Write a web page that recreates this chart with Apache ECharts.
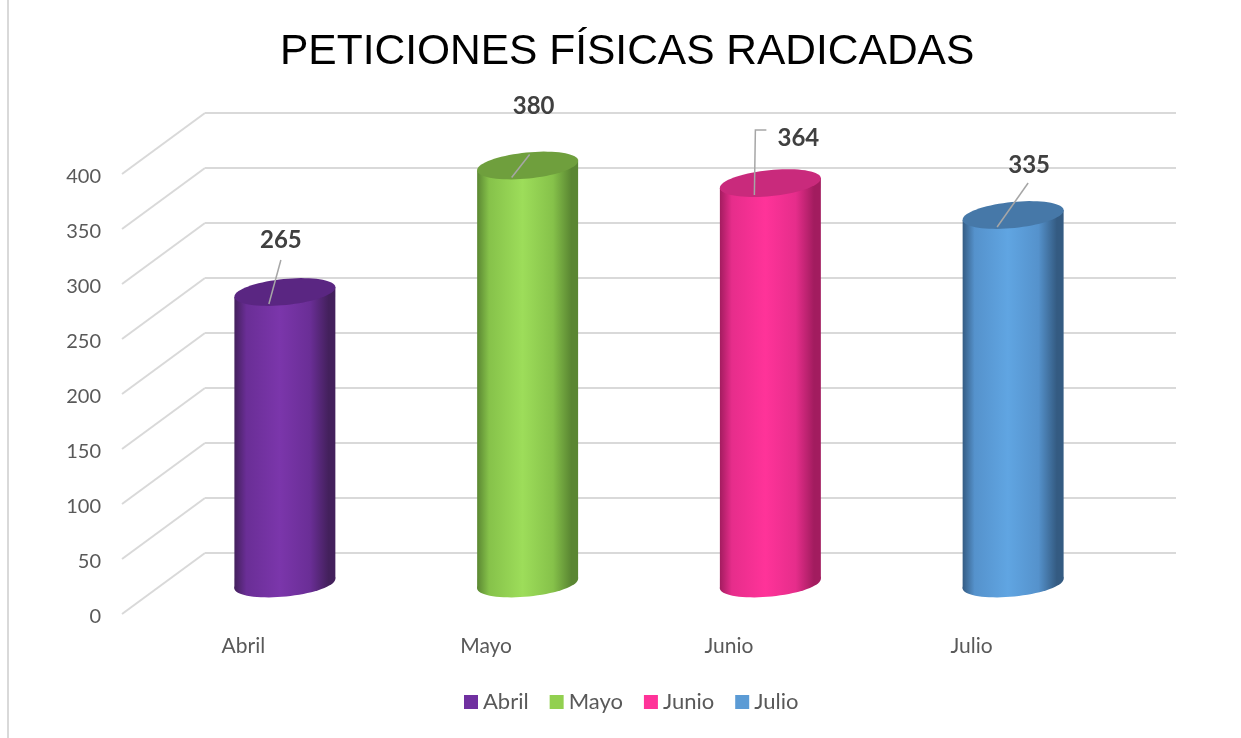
<!DOCTYPE html>
<html>
<head>
<meta charset="utf-8">
<script src="https://cdn.jsdelivr.net/npm/echarts@6/dist/echarts.min.js"></script>
<style>
html,body{margin:0;padding:0;background:#fff;}
#chart{width:1241px;height:738px;}
</style>
</head>
<body>
<div id="chart"></div>
<script>
// ---- data ----
const categories = ['Abril', 'Mayo', 'Junio', 'Julio'];
const values = [265, 380, 364, 335];
const yTicks = [0, 50, 100, 150, 200, 250, 300, 350, 400];
const chartTitle = 'PETICIONES FÍSICAS RADICADAS';

// ---- styles ----
const palettes = [
  { legend: '#7030A0', dark: '#43205c', mid: '#6a2e96', light: '#7b36ab', top: '#5a2682' },
  { legend: '#92D050', dark: '#5a8632', mid: '#86c24a', light: '#9ddd5a', top: '#6f9f3d' },
  { legend: '#FF3399', dark: '#a21c5f', mid: '#e62d8b', light: '#ff3399', top: '#c92a7c' },
  { legend: '#5B9BD5', dark: '#345b82', mid: '#5592cc', light: '#60a5e2', top: '#4678a8' }
];
// label placement relative to the top of each cylinder, and leader start relative to label
const labelNudge = [[-4, -52], [6, -59], [28, -45], [16, -50]];
const leaderFrom = [[0, 20], [-4, 48], [-43, -8], [-1, 18]];

const DX = 83, DY = 61;            // depth offset back wall -> front edge
const back = { left: 205, right: 65, top: 113, bottom: 185 };
const grids = [
  back,
  { left: back.left - DX / 2, right: back.right + DX / 2, top: back.top + DY / 2, bottom: back.bottom - DY / 2 },
  { left: back.left - DX, right: back.right + DX, top: back.top + DY, bottom: back.bottom - DY }
];
const FONT = 'Lato';

function ellipsePts(cx, cy, rx, ry, th) {
  const pts = [];
  const c = Math.cos(th), s = Math.sin(th);
  for (let i = 0; i < 72; i++) {
    const t = i / 72 * Math.PI * 2;
    const ex = rx * Math.cos(t), ey = ry * Math.sin(t);
    pts.push([cx + ex * c + ey * s, cy - ex * s + ey * c]);
  }
  return pts;
}

function cylinder(idx) {
  const p = palettes[idx];
  return function (params, api) {
    const xv = api.value(0), v = api.value(1);
    const topP = api.coord([xv, v]);
    const baseP = api.coord([xv, 0]);
    const bw = api.size([1, 0])[0] * 0.418;
    const rx = bw / 2, ry = 13, th = 0.1;
    const cx = topP[0];
    const lx = rx * Math.cos(th), ly = rx * Math.sin(th);
    const grad = {
      type: 'linear', x: cx - rx, y: 0, x2: cx + rx, y2: 0, global: true,
      colorStops: [
        { offset: 0, color: p.dark },
        { offset: 0.12, color: p.mid },
        { offset: 0.45, color: p.light },
        { offset: 0.75, color: p.mid },
        { offset: 0.93, color: p.dark },
        { offset: 1, color: p.dark }
      ]
    };
    const lab = [cx + labelNudge[idx][0], topP[1] + labelNudge[idx][1]];
    const ls = [lab[0] + leaderFrom[idx][0], lab[1] + leaderFrom[idx][1]];
    const le = [cx - 16, topP[1] + 12];
    const leader = [le, ls];
    if (leaderFrom[idx][0] < -20) leader.push([ls[0] + 11, ls[1]]);
    return {
      type: 'group',
      children: [
        { type: 'polygon', shape: { points: ellipsePts(cx, baseP[1], rx, ry, th) }, style: { fill: grad } },
        { type: 'polygon', shape: { points: [[cx - lx, topP[1] + ly], [cx + lx, topP[1] - ly], [cx + lx, baseP[1] - ly], [cx - lx, baseP[1] + ly]] }, style: { fill: grad } },
        { type: 'polygon', shape: { points: ellipsePts(cx, topP[1], rx, ry, th) }, style: { fill: p.top } },
        { type: 'polyline', shape: { points: leader }, style: { stroke: '#a6a6a6', lineWidth: 1.5, fill: null } },
        { type: 'text', style: { text: String(v), x: lab[0], y: lab[1], align: 'center', verticalAlign: 'middle', fontSize: 24, fontWeight: 'bold', fontFamily: FONT, fill: '#404040' } }
      ]
    };
  };
}

const series = [
  {
    type: 'custom', name: 'diag', xAxisIndex: 2, yAxisIndex: 2, silent: true, z: 1,
    data: yTicks.map(t => [0, t]),
    renderItem: function (params, api) {
      const y = api.coord([0, api.value(1)])[1];
      const x = params.coordSys.x;
      return { type: 'line', shape: { x1: x, y1: y, x2: x + DX, y2: y - DY }, style: { stroke: '#d9d9d9', lineWidth: 2 } };
    }
  }
];
categories.forEach((c, i) => {
  series.push({
    type: 'custom', name: c, xAxisIndex: 1, yAxisIndex: 1, z: 3,
    itemStyle: { color: palettes[i].legend },
    data: [[i, values[i]]],
    renderItem: cylinder(i)
  });
});

const chart = echarts.init(document.getElementById('chart'), null, { renderer: 'canvas' });
chart.setOption({
  animation: false,
  backgroundColor: '#fff',
  title: {
    text: chartTitle, left: 275, top: 26,
    textStyle: { fontFamily: 'Liberation Sans', fontSize: 42.5, fontWeight: 'normal', color: '#000' }
  },
  legend: {
    data: categories, bottom: 20, left: 459, icon: 'rect', itemWidth: 14, itemHeight: 14, itemGap: 21,
    textStyle: { fontFamily: FONT, fontSize: 22, color: '#595959' }
  },
  graphic: [{ type: 'line', shape: { x1: 8, y1: 0, x2: 8, y2: 738 }, style: { stroke: '#d9d9d9', lineWidth: 2 } }],
  grid: grids.map(g => Object.assign({ containLabel: false }, g)),
  xAxis: [0, 1, 2].map(i => ({
    type: 'category', gridIndex: i, data: categories,
    axisLine: { show: false }, axisTick: { show: false },
    axisLabel: { show: i === 2, margin: 22, fontFamily: FONT, fontSize: 21, color: '#595959' }
  })),
  yAxis: [0, 1, 2].map(i => ({
    type: 'value', gridIndex: i, min: 0, max: 400, interval: 50,
    axisLine: { show: false }, axisTick: { show: false },
    splitLine: { show: i === 0, lineStyle: { color: '#d9d9d9', width: 2 } },
    axisLabel: { show: i === 2, margin: 21, verticalAlign: 'top', lineHeight: 20, padding: [-7, 0, 0, 0], fontFamily: FONT, fontSize: 20, color: '#595959' }
  })),
  series: series
});
</script>
</body>
</html>
